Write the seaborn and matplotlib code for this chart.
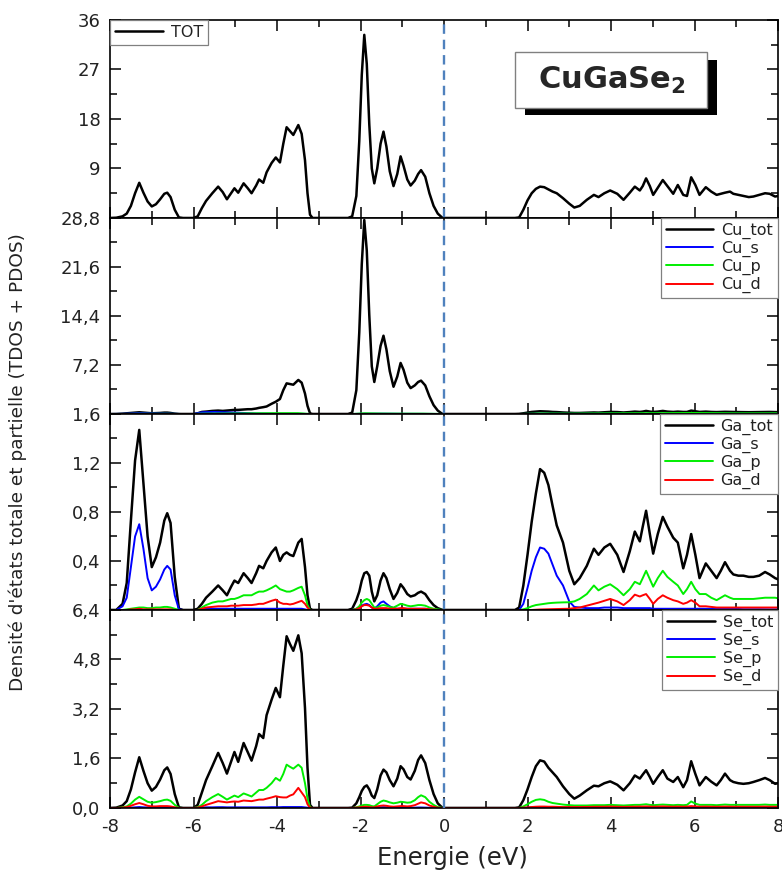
import matplotlib
matplotlib.use("Agg")
import matplotlib.pyplot as plt
import seaborn as sns
from matplotlib.patches import Rectangle
from matplotlib.ticker import FixedLocator, FixedFormatter, MultipleLocator

# ---------------- data ----------------
energy = [
    -8.0, -7.85, -7.7, -7.6, -7.5, -7.4, -7.3, -7.2, -7.1, -7.0, -6.9, -6.8, -6.7, -6.63, -6.55, -6.45, -6.35, -6.25,
    -6.0, -5.9, -5.8, -5.7, -5.55, -5.41, -5.3, -5.2, -5.1, -5.02, -4.93, -4.8, -4.7, -4.61, -4.5, -4.43, -4.33,
    -4.25, -4.13, -4.03, -3.93, -3.85, -3.77, -3.69, -3.61, -3.49, -3.41, -3.33, -3.27, -3.21, -3.15,
    -2.3, -2.2, -2.1, -2.03, -1.97, -1.91, -1.85, -1.79, -1.73, -1.67, -1.6, -1.52, -1.45, -1.38, -1.3, -1.21,
    -1.12, -1.04, -0.97, -0.88, -0.8, -0.7, -0.62, -0.55, -0.45, -0.35, -0.25, -0.15, -0.05, 0.0,
    1.7, 1.8, 1.9, 2.0, 2.1, 2.2, 2.3, 2.4, 2.5, 2.6, 2.7, 2.85, 3.0, 3.12, 3.25, 3.42, 3.59, 3.7, 3.84, 3.98,
    4.15, 4.3, 4.45, 4.57, 4.69, 4.76, 4.84, 4.93, 5.01, 5.12, 5.24, 5.35, 5.49, 5.6, 5.73, 5.82, 5.92, 6.02, 6.12,
    6.27, 6.4, 6.53, 6.63, 6.73, 6.85, 6.93, 7.05, 7.17, 7.3, 7.41, 7.55, 7.69, 7.8, 7.93, 8.0,
]

tot_dos = [
    0, 0.05, 0.3, 0.8, 2.2, 4.5, 6.4, 4.6, 3.0, 2.1, 2.5, 3.4, 4.4, 4.6, 3.8, 1.5, 0.1, 0,
    0, 0.3, 1.8, 3.1, 4.5, 5.7, 4.7, 3.4, 4.5, 5.4, 4.6, 6.3, 5.4, 4.5, 5.9, 7.0, 6.4, 8.3, 10.0, 11.0,
    10.1, 13.5, 16.5, 15.8, 15.1, 16.9, 15.3, 10.5, 4.5, 0.6, 0,
    0, 0.3, 4, 14, 26, 33.3, 28, 17, 9, 6.3, 9, 13.5, 15.7, 13, 8.5, 5.8, 8, 11.2, 9.5, 7,
    5.9, 6.8, 8.0, 8.7, 7.5, 4.5, 2.2, 0.8, 0.1, 0,
    0, 0.1, 1.5, 3.2, 4.5, 5.3, 5.7, 5.6, 5.2, 4.8, 4.5, 3.6, 2.6, 1.9, 2.2, 3.3, 4.2, 3.8, 4.5, 5.0,
    4.4, 3.3, 4.6, 5.7, 5.0, 5.8, 7.2, 5.8, 4.2, 5.5, 6.9, 5.8, 4.4, 6.0, 4.2, 4.0, 7.4, 6.0, 4.2, 5.6,
    4.8, 4.2, 4.4, 4.6, 4.8, 4.4, 4.2, 4.0, 3.8, 3.9, 4.2, 4.5, 4.4, 3.9, 4.0,
]

cu_tot = [
    0, 0, 0.05, 0.1, 0.15, 0.2, 0.25, 0.2, 0.15, 0.1, 0.12, 0.15, 0.2, 0.2, 0.15, 0.05, 0, 0,
    0, 0.1, 0.3, 0.35, 0.45, 0.5, 0.45, 0.5, 0.55, 0.6, 0.6, 0.65, 0.7, 0.7, 0.8, 0.9, 1.0, 1.1, 1.5, 1.8,
    2.2, 3.5, 4.5, 4.4, 4.3, 5.0, 4.6, 3.0, 1.2, 0.1, 0,
    0, 0.2, 3.5, 12, 22, 28.5, 24, 14.5, 7, 4.7, 7, 10, 11.5, 9.5, 6.3, 4.0, 5.5, 7.5, 6.5, 4.6,
    3.8, 4.2, 4.7, 4.9, 4.2, 2.6, 1.3, 0.5, 0.05, 0,
    0, 0.02, 0.1, 0.2, 0.3, 0.35, 0.4, 0.38, 0.35, 0.3, 0.28, 0.22, 0.18, 0.15, 0.15, 0.18, 0.22, 0.2, 0.25, 0.3,
    0.28, 0.22, 0.28, 0.35, 0.3, 0.35, 0.45, 0.35, 0.3, 0.35, 0.45, 0.35, 0.3, 0.35, 0.3, 0.3, 0.5, 0.4, 0.3, 0.35,
    0.3, 0.28, 0.3, 0.32, 0.3, 0.28, 0.28, 0.27, 0.26, 0.27, 0.28, 0.3, 0.3, 0.27, 0.27,
]

cu_orb_energy = [-8.0, -7.7, -7.3, -7.0, -6.6, -6.3, -6.0, -5.8, -5.5, -5.0, -4.5, -4.0, -3.5, -3.2,
                 -2.2, -1.9, -1.45, -1.0, -0.5, 0.0, 1.8, 2.3, 3.0, 4.0, 5.0, 6.0, 7.0, 8.0]
cu_s = [0, 0.03, 0.12, 0.08, 0.06, 0, 0, 0.25, 0.3, 0.2, 0.08, 0.04, 0.03, 0,
        0, 0.05, 0.05, 0.03, 0.02, 0, 0, 0.05, 0.03, 0.05, 0.04, 0.06, 0.03, 0.03]
cu_p = [0, 0.01, 0.03, 0.03, 0.03, 0, 0, 0.05, 0.06, 0.08, 0.1, 0.12, 0.12, 0,
        0, 0.1, 0.06, 0.05, 0.05, 0, 0, 0.08, 0.06, 0.1, 0.12, 0.15, 0.1, 0.1]
cu_d = [0, 0, 0, 0, 0, 0, 0, 0, 0, 0, 0, 0, 0, 0,
        0, 0, 0, 0, 0, 0, 0, 0, 0, 0, 0, 0, 0, 0]

ga_tot = [
    0, 0, 0.05, 0.22, 0.73, 1.22, 1.47, 1.04, 0.6, 0.35, 0.43, 0.55, 0.73, 0.79, 0.71, 0.27, 0.01, 0,
    0, 0.01, 0.05, 0.1, 0.15, 0.20, 0.16, 0.12, 0.19, 0.24, 0.22, 0.30, 0.26, 0.22, 0.30, 0.36, 0.34, 0.40, 0.47, 0.51,
    0.40, 0.45, 0.47, 0.45, 0.44, 0.55, 0.58, 0.35, 0.12, 0.01, 0,
    0, 0.01, 0.08, 0.15, 0.24, 0.30, 0.31, 0.28, 0.15, 0.07, 0.12, 0.24, 0.30, 0.26, 0.17, 0.09, 0.14, 0.21, 0.18, 0.13,
    0.11, 0.12, 0.14, 0.15, 0.13, 0.08, 0.04, 0.015, 0.002, 0,
    0, 0.02, 0.2, 0.45, 0.72, 0.95, 1.15, 1.12, 1.02, 0.85, 0.69, 0.55, 0.32, 0.21, 0.26, 0.36, 0.50, 0.45, 0.51, 0.54,
    0.45, 0.31, 0.48, 0.64, 0.56, 0.68, 0.81, 0.62, 0.46, 0.62, 0.76, 0.68, 0.59, 0.55, 0.34, 0.45, 0.62, 0.45, 0.26, 0.38,
    0.32, 0.26, 0.32, 0.39, 0.32, 0.29, 0.28, 0.28, 0.27, 0.27, 0.28, 0.31, 0.29, 0.26, 0.25,
]
ga_s = [
    0, 0, 0.03, 0.1, 0.35, 0.6, 0.70, 0.5, 0.26, 0.16, 0.19, 0.25, 0.33, 0.36, 0.33, 0.12, 0.005, 0,
    0, 0, 0.005, 0.01, 0.01, 0.01, 0.01, 0.01, 0.01, 0.01, 0.01, 0.01, 0.01, 0.01, 0.01, 0.01, 0.01, 0.01, 0.01, 0.01,
    0.01, 0.01, 0.01, 0.01, 0.01, 0.01, 0.01, 0.005, 0, 0, 0,
    0, 0, 0.01, 0.02, 0.035, 0.045, 0.05, 0.04, 0.02, 0.01, 0.03, 0.06, 0.07, 0.05, 0.03, 0.015, 0.01, 0.01, 0.01, 0.01,
    0.01, 0.01, 0.01, 0.01, 0.01, 0.005, 0.003, 0, 0, 0,
    0, 0, 0.05, 0.18, 0.32, 0.43, 0.51, 0.50, 0.46, 0.37, 0.28, 0.20, 0.07, 0.025, 0.02, 0.015, 0.015, 0.015, 0.02, 0.02,
    0.02, 0.015, 0.015, 0.015, 0.015, 0.015, 0.015, 0.015, 0.01, 0.01, 0.01, 0.01, 0.01, 0.01, 0.01, 0.01, 0.01, 0.01, 0.01, 0.01,
    0.01, 0.01, 0.008, 0.008, 0.008, 0.008, 0.008, 0.006, 0.006, 0.006, 0.006, 0.005, 0.005, 0.005, 0.005,
]
ga_p = [
    0, 0, 0, 0.005, 0.01, 0.015, 0.02, 0.02, 0.015, 0.015, 0.02, 0.02, 0.025, 0.025, 0.02, 0.01, 0, 0,
    0, 0, 0.02, 0.04, 0.06, 0.07, 0.07, 0.08, 0.09, 0.09, 0.1, 0.12, 0.12, 0.12, 0.14, 0.15, 0.15, 0.16, 0.18, 0.20,
    0.17, 0.16, 0.15, 0.15, 0.16, 0.18, 0.19, 0.12, 0.04, 0, 0,
    0, 0, 0.01, 0.03, 0.06, 0.08, 0.09, 0.08, 0.05, 0.02, 0.02, 0.035, 0.04, 0.035, 0.025, 0.02, 0.035, 0.05, 0.045, 0.035,
    0.03, 0.035, 0.04, 0.04, 0.035, 0.02, 0.01, 0.005, 0, 0,
    0, 0, 0.005, 0.015, 0.03, 0.04, 0.045, 0.05, 0.055, 0.058, 0.06, 0.062, 0.063, 0.07, 0.09, 0.13, 0.20, 0.16, 0.19, 0.21,
    0.17, 0.12, 0.17, 0.23, 0.21, 0.26, 0.32, 0.25, 0.19, 0.26, 0.32, 0.27, 0.23, 0.20, 0.13, 0.17, 0.23, 0.17, 0.13, 0.13,
    0.10, 0.08, 0.10, 0.12, 0.10, 0.09, 0.09, 0.09, 0.09, 0.09, 0.095, 0.10, 0.10, 0.10, 0.095,
]
ga_d = [
    0, 0, 0, 0, 0.005, 0.005, 0.01, 0.005, 0.005, 0.005, 0.005, 0.005, 0.005, 0.005, 0.005, 0, 0, 0,
    0, 0, 0.01, 0.02, 0.025, 0.03, 0.03, 0.03, 0.035, 0.035, 0.035, 0.04, 0.04, 0.04, 0.045, 0.05, 0.05, 0.06, 0.075, 0.085,
    0.06, 0.05, 0.05, 0.045, 0.05, 0.065, 0.075, 0.05, 0.02, 0, 0,
    0, 0, 0.005, 0.015, 0.03, 0.04, 0.04, 0.035, 0.02, 0.01, 0.01, 0.015, 0.015, 0.015, 0.01, 0.01, 0.01, 0.015, 0.015, 0.01,
    0.01, 0.01, 0.01, 0.01, 0.01, 0.005, 0.003, 0, 0, 0,
    0, 0, 0, 0, 0, 0.002, 0.004, 0.005, 0.006, 0.007, 0.008, 0.009, 0.01, 0.015, 0.02, 0.035, 0.05, 0.06, 0.075, 0.09,
    0.07, 0.04, 0.08, 0.125, 0.11, 0.12, 0.13, 0.09, 0.05, 0.09, 0.12, 0.10, 0.08, 0.07, 0.05, 0.06, 0.08, 0.06, 0.03, 0.03,
    0.025, 0.02, 0.02, 0.02, 0.02, 0.02, 0.02, 0.02, 0.02, 0.02, 0.02, 0.02, 0.02, 0.02, 0.02,
]

se_tot = [
    0, 0.01, 0.08, 0.22, 0.6, 1.15, 1.64, 1.2, 0.8, 0.56, 0.68, 0.92, 1.22, 1.31, 1.1, 0.45, 0.02, 0,
    0, 0.1, 0.5, 0.9, 1.35, 1.78, 1.45, 1.11, 1.5, 1.81, 1.49, 2.10, 1.8, 1.53, 2.0, 2.39, 2.26, 3.0, 3.5, 3.88,
    3.58, 4.6, 5.55, 5.3, 5.08, 5.58, 5.0, 3.23, 1.3, 0.1, 0,
    0, 0.01, 0.15, 0.35, 0.55, 0.68, 0.73, 0.6, 0.4, 0.32, 0.6, 1.05, 1.24, 1.15, 0.9, 0.7, 0.95, 1.35, 1.25, 1.0,
    0.92, 1.2, 1.55, 1.70, 1.45, 0.9, 0.45, 0.15, 0.02, 0,
    0, 0.02, 0.25, 0.6, 1.0, 1.35, 1.54, 1.5, 1.3, 1.15, 1.0, 0.7, 0.45, 0.3, 0.4, 0.57, 0.72, 0.7, 0.8, 0.86,
    0.75, 0.57, 0.8, 1.05, 0.95, 1.08, 1.22, 1.0, 0.78, 1.0, 1.22, 0.95, 0.84, 1.0, 0.67, 0.9, 1.51, 1.1, 0.73, 1.0,
    0.85, 0.73, 0.9, 1.11, 0.9, 0.84, 0.8, 0.78, 0.8, 0.84, 0.9, 0.97, 0.9, 0.78, 0.8,
]
se_s = [
    0, 0, 0, 0.005, 0.01, 0.02, 0.03, 0.02, 0.015, 0.01, 0.01, 0.01, 0.015, 0.015, 0.01, 0.005, 0, 0,
    0, 0.005, 0.01, 0.02, 0.02, 0.025, 0.025, 0.02, 0.02, 0.02, 0.02, 0.02, 0.02, 0.02, 0.02, 0.02, 0.02, 0.02, 0.025, 0.025,
    0.025, 0.03, 0.03, 0.03, 0.03, 0.03, 0.03, 0.02, 0.01, 0, 0,
    0, 0, 0.005, 0.01, 0.015, 0.02, 0.02, 0.015, 0.01, 0.01, 0.015, 0.02, 0.025, 0.02, 0.015, 0.01, 0.01, 0.015, 0.015, 0.01,
    0.01, 0.01, 0.015, 0.015, 0.01, 0.005, 0.003, 0, 0, 0,
    0, 0, 0.005, 0.01, 0.02, 0.025, 0.03, 0.03, 0.025, 0.02, 0.015, 0.01, 0.008, 0.006, 0.006, 0.006, 0.006, 0.006, 0.006, 0.006,
    0.006, 0.006, 0.006, 0.006, 0.006, 0.006, 0.006, 0.006, 0.006, 0.006, 0.006, 0.006, 0.006, 0.006, 0.006, 0.006, 0.02, 0.01, 0.006, 0.006,
    0.005, 0.005, 0.005, 0.005, 0.005, 0.005, 0.005, 0.005, 0.005, 0.005, 0.005, 0.005, 0.005, 0.005, 0.005,
]
se_p = [
    0, 0, 0.02, 0.05, 0.14, 0.27, 0.36, 0.28, 0.2, 0.17, 0.19, 0.22, 0.26, 0.27, 0.23, 0.1, 0.005, 0,
    0, 0.02, 0.1, 0.22, 0.35, 0.45, 0.36, 0.27, 0.34, 0.40, 0.35, 0.47, 0.42, 0.37, 0.5, 0.58, 0.58, 0.65, 0.8, 0.97,
    0.88, 1.1, 1.40, 1.33, 1.27, 1.40, 1.3, 0.8, 0.3, 0.02, 0,
    0, 0, 0.02, 0.05, 0.08, 0.1, 0.1, 0.09, 0.06, 0.05, 0.12, 0.2, 0.24, 0.22, 0.18, 0.15, 0.17, 0.2, 0.19, 0.17,
    0.18, 0.25, 0.35, 0.41, 0.35, 0.2, 0.1, 0.03, 0.005, 0,
    0, 0, 0.05, 0.12, 0.2, 0.26, 0.28, 0.26, 0.2, 0.16, 0.14, 0.11, 0.09, 0.08, 0.08, 0.08, 0.09, 0.09, 0.09, 0.1,
    0.09, 0.08, 0.09, 0.1, 0.1, 0.11, 0.12, 0.1, 0.09, 0.1, 0.11, 0.1, 0.09, 0.1, 0.09, 0.1, 0.21, 0.14, 0.1, 0.1,
    0.1, 0.09, 0.1, 0.11, 0.1, 0.1, 0.1, 0.1, 0.1, 0.1, 0.1, 0.11, 0.1, 0.1, 0.1,
]
se_d = [
    0, 0, 0.01, 0.03, 0.07, 0.12, 0.16, 0.12, 0.07, 0.05, 0.05, 0.06, 0.06, 0.06, 0.05, 0.02, 0, 0,
    0, 0.01, 0.05, 0.1, 0.16, 0.22, 0.2, 0.18, 0.2, 0.21, 0.2, 0.24, 0.23, 0.22, 0.25, 0.27, 0.27, 0.3, 0.34, 0.38,
    0.35, 0.34, 0.34, 0.4, 0.44, 0.65, 0.5, 0.35, 0.12, 0.01, 0,
    0, 0, 0.01, 0.02, 0.03, 0.04, 0.04, 0.03, 0.02, 0.02, 0.05, 0.07, 0.08, 0.07, 0.05, 0.04, 0.05, 0.06, 0.06, 0.05,
    0.06, 0.09, 0.14, 0.18, 0.15, 0.08, 0.04, 0.01, 0, 0,
    0, 0, 0.01, 0.02, 0.03, 0.04, 0.045, 0.045, 0.04, 0.04, 0.035, 0.03, 0.03, 0.03, 0.03, 0.035, 0.04, 0.04, 0.04, 0.045,
    0.04, 0.035, 0.04, 0.045, 0.045, 0.045, 0.05, 0.045, 0.04, 0.045, 0.05, 0.045, 0.04, 0.045, 0.04, 0.045, 0.06, 0.05, 0.04, 0.045,
    0.04, 0.04, 0.04, 0.045, 0.04, 0.04, 0.04, 0.04, 0.04, 0.04, 0.04, 0.045, 0.04, 0.04, 0.04,
]

xticks = [-8, -6, -4, -2, 0, 2, 4, 6, 8]
xticklabels = ["-8", "-6", "-4", "-2", "0", "2", "4", "6", "8"]
tot_yticks, tot_yticklabels = [9, 18, 27, 36], ["9", "18", "27", "36"]
cu_yticks, cu_yticklabels = [7.2, 14.4, 21.6, 28.8], ["7,2", "14,4", "21,6", "28,8"]
ga_yticks, ga_yticklabels = [0.4, 0.8, 1.2, 1.6], ["0,4", "0,8", "1,2", "1,6"]
se_yticks, se_yticklabels = [0.0, 1.6, 3.2, 4.8, 6.4], ["0,0", "1,6", "3,2", "4,8", "6,4"]

# ---------------- styling ----------------
sns.set_style("white")
plt.rcParams["font.family"] = ["DejaVu Sans"]

BLACK, BLUE, GREEN, RED = "#000000", "#0000ff", "#00ee00", "#ff0000"
LW_TOT, LW_ORB = 1.8, 1.4

fig, axes = plt.subplots(4, 1, figsize=(7.82, 8.73), dpi=100, sharex=True,
                         gridspec_kw=dict(hspace=0, height_ratios=[198, 196, 196, 198]))
fig.subplots_adjust(left=0.1407, right=0.9949, top=0.9771, bottom=0.0745)

panels = [
    dict(series=[("TOT", energy, tot_dos, BLACK, LW_TOT)],
         ylim=36, yt=tot_yticks, ytl=tot_yticklabels, minor=4.5, loc="upper left"),
    dict(series=[("Cu_tot", energy, cu_tot, BLACK, LW_TOT), ("Cu_s", cu_orb_energy, cu_s, BLUE, LW_ORB),
                 ("Cu_p", cu_orb_energy, cu_p, GREEN, LW_ORB), ("Cu_d", cu_orb_energy, cu_d, RED, LW_ORB)],
         ylim=28.8, yt=cu_yticks, ytl=cu_yticklabels, minor=3.6, loc="upper right"),
    dict(series=[("Ga_tot", energy, ga_tot, BLACK, LW_TOT), ("Ga_s", energy, ga_s, BLUE, LW_ORB),
                 ("Ga_p", energy, ga_p, GREEN, LW_ORB), ("Ga_d", energy, ga_d, RED, LW_ORB)],
         ylim=1.6, yt=ga_yticks, ytl=ga_yticklabels, minor=0.2, loc="upper right"),
    dict(series=[("Se_tot", energy, se_tot, BLACK, LW_TOT), ("Se_s", energy, se_s, BLUE, LW_ORB),
                 ("Se_p", energy, se_p, GREEN, LW_ORB), ("Se_d", energy, se_d, RED, LW_ORB)],
         ylim=6.4, yt=se_yticks, ytl=se_yticklabels, minor=0.8, loc="upper right"),
]

for i, (ax, p) in enumerate(zip(axes, panels)):
    for name, xs, ys, col, lw in p["series"]:
        sns.lineplot(x=xs, y=ys, ax=ax, color=col, linewidth=lw, label=name,
                     estimator=None, sort=False)
    ax.axvline(0, color="#4f81bd", lw=1.7, ls=(0, (4, 2.5)), zorder=5)
    ax.set_xlim(-8, 8)
    ax.set_ylim(0, p["ylim"])
    ax.yaxis.set_major_locator(FixedLocator(p["yt"]))
    ax.yaxis.set_major_formatter(FixedFormatter(p["ytl"]))
    ax.yaxis.set_minor_locator(MultipleLocator(p["minor"]))
    ax.xaxis.set_major_locator(FixedLocator(xticks))
    ax.xaxis.set_major_formatter(FixedFormatter(xticklabels))
    ax.xaxis.set_minor_locator(MultipleLocator(1))
    ax.tick_params(which="both", direction="in", top=True, right=True, bottom=True, left=True,
                   width=1.1, color="black")
    ax.tick_params(which="major", length=8, labelsize=13, pad=7, labelcolor="#222222")
    ax.tick_params(which="minor", length=5)
    ax.tick_params(axis="x", labelbottom=(i == 3))
    for sp in ax.spines.values():
        sp.set_linewidth(1.2)
        sp.set_color("black")
    ax.set_xlabel("")
    ax.set_ylabel("")
    leg = ax.legend(loc=p["loc"], fontsize=11.5, frameon=True, fancybox=False, framealpha=1,
                    edgecolor="#808080", borderaxespad=0, handlelength=3.0, labelspacing=0.12,
                    borderpad=0.3, handletextpad=0.5)
    leg.get_frame().set_linewidth(0.9)
    for t in leg.get_texts():
        t.set_color("#222222")

# CuGaSe2 label box with shadow
ax0 = axes[0]
ax0.add_patch(Rectangle((0.621, 0.520), 0.288, 0.278, transform=ax0.transAxes,
                        facecolor="black", edgecolor="none", zorder=6))
ax0.add_patch(Rectangle((0.607, 0.556), 0.287, 0.282, transform=ax0.transAxes,
                        facecolor="white", edgecolor="#808080", lw=1.0, zorder=7))
ax0.text(0.751, 0.697, "CuGaSe$_\\mathbf{2}$", transform=ax0.transAxes, ha="center", va="center",
         fontsize=22, fontweight="bold", zorder=8)

fig.text(0.023, 0.471, "Densité d'états totale et partielle (TDOS + PDOS)", rotation=90,
         ha="center", va="center", fontsize=13.3, color="#222222")
fig.text(0.578, 0.017, "Energie (eV)", ha="center", va="center", fontsize=17.5, color="#222222")

fig.savefig("out.png", dpi=100)
